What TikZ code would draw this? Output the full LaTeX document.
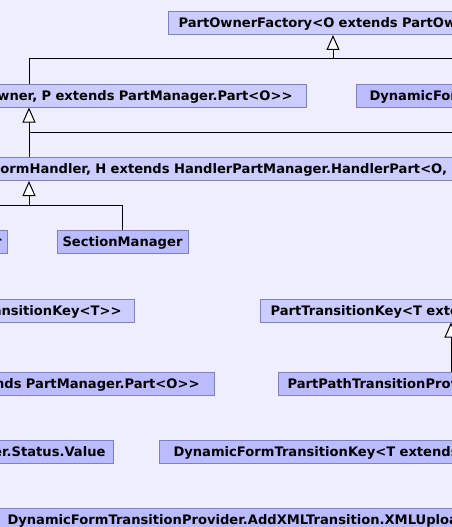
\documentclass[tikz,border=0pt]{standalone}
\usepackage{fontspec}
\usetikzlibrary{arrows.meta}
\newfontfamily\umlfont{DejaVu Sans}
\definecolor{bgcol}{RGB}{238,238,255}
\definecolor{clslight}{RGB}{204,204,255}
\definecolor{clsdark}{RGB}{187,187,255}
\definecolor{clsedge}{RGB}{128,128,192}

\begin{document}
\begin{tikzpicture}[x=1pt,y=-1pt,line width=1pt,
  cls/.style={draw=clsedge,fill=clsdark,inner ysep=0pt,minimum height=23pt,
    text height=11.5pt,text depth=1.9pt,
    font=\umlfont\bfseries\fontsize{13.1}{15}\selectfont},
  tmpl/.style={cls,fill=clslight},
  lcut/.style={text width=600pt,align=right,anchor=east},
  rcut/.style={text width=600pt,align=left,anchor=west},
  isa/.style={-{Triangle[length=15pt,width=13pt,fill=white]}}]
\useasboundingbox (0,0) rectangle (452,527);
\fill[bgcol] (0,0) rectangle (452,527);
\clip (0,0) rectangle (452,527);

% classes
\node[tmpl,rcut,inner xsep=10pt] (factory) at (168,23) {PartOwnerFactory<O extends PartOwn};
\node[tmpl,lcut,inner xsep=14pt] (partmgr) at (307,95.5) {Owner, P extends PartManager.Part<O>>};
\node[cls,rcut,inner xsep=13pt] (dynform) at (356,95.5) {DynamicForm};
\node[tmpl,rcut,inner xsep=10pt] (handlermgr) at (-10,169) {ormHandler, H extends HandlerPartManager.HandlerPart<O, };
\node[cls,lcut,inner xsep=6pt] (leftmgr) at (8,242) {r};
\node[cls,minimum width=131pt] (section) at (122.5,242) {SectionManager};
\node[tmpl,lcut,inner xsep=13pt] (transkey) at (135,310.5) {ransitionKey<T>>};
\node[tmpl,rcut,inner xsep=10pt] (parttranskey) at (260,310.5) {PartTransitionKey<T exten};
\node[cls,lcut,inner xsep=15pt] (partpart) at (215,383.5) {ends PartManager.Part<O>>};
\node[cls,rcut,inner xsep=9pt] (pathprov) at (278,383.5) {PartPathTransitionProvi};
\node[cls,lcut,inner xsep=8pt] (status) at (114,451.5) {er.Status.Value};
\node[cls,rcut,inner xsep=14pt] (dynkey) at (159,451.5) {DynamicFormTransitionKey<T extends};
\node[cls,rcut,inner xsep=8pt] (xmlupload) at (-1,519.5) {DynamicFormTransitionProvider.AddXMLTransition.XMLUploa};

% junctions
\coordinate (j1) at (333,59);
\coordinate (e1) at (470,59);
\coordinate (j2) at (29,132);
\coordinate (e2) at (470,132);
\coordinate (j3) at (29,205);
\coordinate (w3) at (-10,205);
\coordinate (j4) at (451,350);

% inheritance
\draw[isa] (partmgr.north -| j2) |- (j1) -- (factory.south -| j1);
\draw (j1) -- (e1);
\draw[isa] (handlermgr.north -| j2) -- (partmgr.south -| j2);
\draw (j2) -- (e2);
\draw[isa] (section.north) |- (j3) -- (handlermgr.south -| j3);
\draw (w3) -- (j3);
\draw[isa] (pathprov.north -| j4) -- (parttranskey.south -| j4);
\end{tikzpicture}
\end{document}
